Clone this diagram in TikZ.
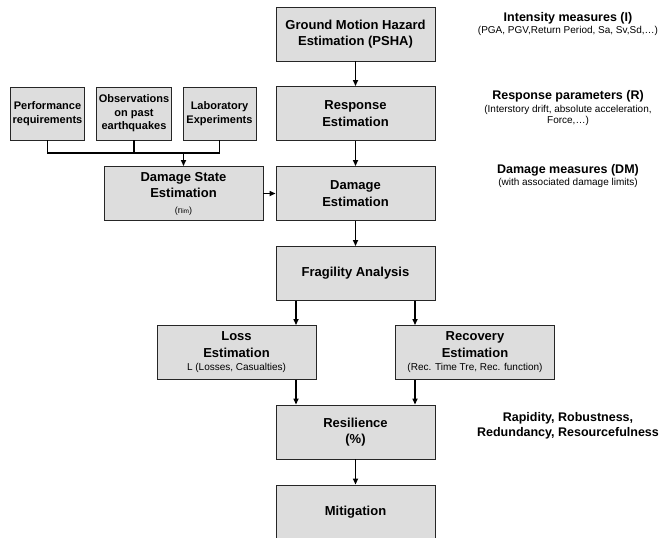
\documentclass[tikz,border=0pt]{standalone}
\usepackage{fontspec}
\setmainfont{Liberation Sans}
\usetikzlibrary{arrows.meta}
\definecolor{boxgray}{RGB}{221,221,221}

\begin{document}
\begin{tikzpicture}[x=1pt,y=-1pt]
            \tikzset{block/.style = {draw=black!85, line width=0.9pt, fill=boxgray, minimum width=159pt, minimum height=54pt, inner sep=2pt, align=center, font=\fontsize{13}{16.5}\selectfont\bfseries}}
            \tikzset{source/.style = {block, minimum width=73pt, minimum height=53pt, font=\fontsize{11}{13.5}\selectfont\bfseries}}
            \tikzset{edge/.style = {-{Triangle[length=6pt,width=5pt]}, line width=1.5pt}}
            \tikzset{link/.style = {line width=1.5pt}}
            \tikzset{title/.style = {align=center, font=\fontsize{12.5}{15}\selectfont\bfseries}}
            \tikzset{note/.style = {align=center, font=\fontsize{10}{11}\selectfont}}
            \useasboundingbox (0,0) rectangle (667,538);

            % main chain
            \node[block] (hazard) at (355.5,34) {Ground Motion Hazard\\Estimation (PSHA)};
            \node[block] (response) at (355.5,113.5) {Response\\Estimation};
            \node[block] (damage) at (355.5,193.5) {Damage\\Estimation};
            \node[block] (fragility) at (355.5,273.5) {Fragility Analysis};
            \node[block] (resilience) at (355.5,432) {Resilience\\(\%)};
            \node[block] (mitigation) at (355.5,512) {Mitigation};

            % side boxes
            \node[block] (dstate) at (183.5,193.5) {Damage State\\Estimation\\[-1pt]{\mdseries\fontsize{9}{10}\selectfont(r{\fontsize{6.5}{7}\selectfont lim})}};
            \node[block] (loss) at (236.5,352.5) {Loss\\Estimation\\[-3pt]{\mdseries\fontsize{10}{12}\selectfont L (Losses, Casualties)}};
            \node[block] (recovery) at (475,352.5) {Recovery\\Estimation\\[-3pt]{\mdseries\fontsize{10}{12}\selectfont (Rec. Time Tre, Rec. function)}};

            % sources
            \node[source] (perf) at (47.5,113.5) {Performance\\requirements};
            \node[source] (obs) at (134,113.5) {Observations\\on past\\earthquakes};
            \node[source] (lab) at (219.5,113.5) {Laboratory\\Experiments};
            \coordinate (join) at (183.5,153);

            % measures
            \node[title] (im) at (568,18) {Intensity measures (I)};
            \node[note] (imnote) at (568,31) {(PGA, PGV,Return Period, Sa, Sv,Sd,…)};
            \node[title] (rp) at (568,96) {Response parameters (R)};
            \node[note] (rpnote) at (568,115.5) {(Interstory drift, absolute acceleration,\\Force,…)};
            \node[title] (dm) at (568,170) {Damage measures (DM)};
            \node[note] (dmnote) at (568,183) {(with associated damage limits)};
            \node[title] (rr) at (568,425.5) {Rapidity, Robustness,\\Redundancy, Resourcefulness};

            % edges
            \foreach \a/\b in {hazard/response, response/damage, damage/fragility, resilience/mitigation}
            {\draw[edge] (\a) -- (\b);}
            \draw[edge] (dstate) -- (damage);
            \draw[link] (perf.south) |- (lab.south |- join) -- (lab.south);
            \draw[link] (obs.south) -- (obs.south |- join);
            \draw[edge] (join) -- (dstate.north);
            \foreach \s in {-59.5,59.5}
            {
              \draw[edge] ([xshift=\s pt]fragility.south) -- ([xshift=\s pt]fragility.south |- loss.north);
              \draw[edge] ([xshift=\s pt]resilience.north |- loss.south) -- ([xshift=\s pt]resilience.north);
            }
\end{tikzpicture}
\end{document}
